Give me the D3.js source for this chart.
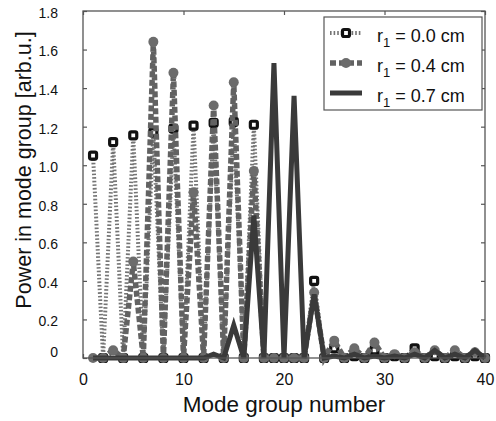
<!DOCTYPE html>
<html>
<head>
<meta charset="utf-8">
<script src="https://cdn.jsdelivr.net/npm/d3@7"></script>
<style>
  body { margin: 0; background: #fff; overflow: hidden; }
  svg { display: block; }
  text { font-family: "Liberation Sans", Arial, sans-serif; fill: #111; }
</style>
</head>
<body>
<div id="chart-wrapper"></div>
<script>
// mode group numbers on the x axis
const modeGroups = [1, 2, 3, 4, 5, 6, 7, 8, 9, 10, 11, 12, 13, 14, 15, 16, 17, 18, 19, 20,
  21, 22, 23, 24, 25, 26, 27, 28, 29, 30, 31, 32, 33, 34, 35, 36, 37, 38, 39, 40];

// power per mode group, one list per launch offset
const powerR00 = [1.05, 0, 1.12, 0, 1.155, 0, 1.17, 0, 1.19, 0, 1.205, 0, 1.22, 0, 1.225, 0, 1.21, 0, 0, 0,
  0, 0, 0.40, 0, 0.05, 0, 0.01, 0, 0.04, 0, 0.01, 0, 0.05, 0, 0.01, 0, 0.01, 0, 0.01, 0];
const powerR04 = [0, 0, 0.04, 0, 0.50, 0, 1.64, 0, 1.48, 0, 0.86, 0, 1.31, 0, 1.43, 0, 0.97, 0, 0, 0,
  0, 0, 0.34, 0, 0.09, 0, 0.05, 0, 0.08, 0, 0.02, 0, 0.03, 0, 0.04, 0, 0.04, 0, 0.03, 0];
const powerR07 = [0, 0, 0, 0, 0, 0, 0, 0, 0, 0, 0, 0, 0.02, 0, 0.17, 0, 0.74, 0, 1.53, 0,
  1.36, 0, 0.33, 0, 0.01, 0, 0.02, 0, 0.01, 0, 0.01, 0, 0.02, 0, 0.04, 0, 0.02, 0, 0.04, 0];

const seriesNames = ["0.0", "0.4", "0.7"];
const xTicks = [0, 10, 20, 30, 40];
const yTicks = [0, 0.2, 0.4, 0.6, 0.8, 1.0, 1.2, 1.4, 1.6, 1.8];

const dimensions = {
  width: 496,
  height: 421,
  margin: { top: 11, right: 11, bottom: 63, left: 83 },
};
const innerWidth = dimensions.width - dimensions.margin.left - dimensions.margin.right;
const innerHeight = dimensions.height - dimensions.margin.top - dimensions.margin.bottom;

const styles = [
  { color: "#747474", width: 4, dash: "1.6,2", marker: "square" },
  { color: "#626262", width: 5.5, dash: "6,2.5", marker: "circle" },
  { color: "#3a3a3a", width: 5, dash: null, marker: null },
];

const series = [powerR00, powerR04, powerR07].map((values, i) => ({
  name: seriesNames[i],
  style: styles[i],
  points: modeGroups.map((g, j) => ({ x: g, y: values[j] })),
}));

const xScale = d3.scaleLinear().domain([0, 40]).range([0, innerWidth]);
const yScale = d3.scaleLinear().domain([0, 1.8]).range([innerHeight, 0]);

const svg = d3.select("#chart-wrapper")
  .append("svg")
  .attr("width", dimensions.width)
  .attr("height", dimensions.height);

const bounds = svg.append("g")
  .attr("transform", `translate(${dimensions.margin.left},${dimensions.margin.top})`);

// axes (ticks point inward)
const xAxis = bounds.append("g")
  .attr("transform", `translate(0,${innerHeight})`)
  .attr("font-size", 16)
  .attr("font-family", null)
  .call(d3.axisBottom(xScale).tickValues(xTicks).tickSizeInner(-4).tickSizeOuter(0).tickPadding(15.5));
xAxis.attr("font-size", 16).attr("font-family", null);

const yAxis = bounds.append("g")
  .call(d3.axisLeft(yScale).tickValues(yTicks).tickSizeInner(-4).tickSizeOuter(0).tickPadding(25)
    .tickFormat(d => d === 0 ? "0" : d3.format(".1f")(d)));
yAxis.attr("font-size", 14).attr("font-family", null);
yAxis.selectAll("text")
  .attr("dy", d => d === 0 ? -1.4 : 6.4);

// mirrored ticks on top and right, no labels
bounds.append("g")
  .call(d3.axisTop(xScale).tickValues(xTicks).tickSizeInner(-4).tickSizeOuter(0).tickFormat(""))
  .selectAll("text").remove();
bounds.append("g")
  .attr("transform", `translate(${innerWidth},0)`)
  .call(d3.axisRight(yScale).tickValues(yTicks).tickSizeInner(-4).tickSizeOuter(0).tickFormat(""))
  .selectAll("text").remove();

bounds.selectAll(".domain").remove();
bounds.selectAll(".tick line").attr("stroke", "#555").attr("stroke-width", 1.2);

// data
const lineGen = d3.line().x(d => xScale(d.x)).y(d => yScale(d.y));
const dataWrapper = bounds.append("g").classed("series", true);

series.forEach(s => {
  dataWrapper.append("path")
    .datum(s.points)
    .attr("d", lineGen)
    .attr("fill", "none")
    .attr("stroke", s.style.color)
    .attr("stroke-width", s.style.width)
    .attr("stroke-dasharray", s.style.dash);

  if (s.style.marker === "square") {
    dataWrapper.append("g")
      .selectAll("rect")
      .data(s.points)
      .join("rect")
      .attr("x", d => xScale(d.x) - 3.5)
      .attr("y", d => yScale(d.y) - 3.5)
      .attr("width", 7)
      .attr("height", 7)
      .attr("rx", 1.5)
      .attr("fill", "#fff")
      .attr("stroke", "#111")
      .attr("stroke-width", 3.2);
  } else if (s.style.marker === "circle") {
    dataWrapper.append("g")
      .selectAll("circle")
      .data(s.points)
      .join("circle")
      .attr("cx", d => xScale(d.x))
      .attr("cy", d => yScale(d.y))
      .attr("r", 5)
      .attr("fill", "#6c6c6c");
  }
});

// frame
bounds.append("rect")
  .attr("width", innerWidth)
  .attr("height", innerHeight)
  .attr("fill", "none")
  .attr("stroke", "#555")
  .attr("stroke-width", 1.3);

// axis titles
svg.append("text")
  .attr("x", dimensions.margin.left + innerWidth / 2)
  .attr("y", 412)
  .attr("text-anchor", "middle")
  .attr("font-size", 22.5)
  .text("Mode group number");

svg.append("text")
  .attr("transform", "translate(31,170) rotate(-90)")
  .attr("text-anchor", "middle")
  .attr("font-size", 21.5)
  .text("Power in mode group [arb.u.]");

// legend
const legend = svg.append("g").attr("transform", "translate(324,17)");
legend.append("rect")
  .attr("width", 158)
  .attr("height", 93)
  .attr("fill", "#fff")
  .attr("stroke", "#555")
  .attr("stroke-width", 1.2);

const rows = legend.selectAll("g.row")
  .data(series)
  .join("g")
  .classed("row", true)
  .attr("transform", (d, i) => `translate(0,${16 + i * 30})`);

rows.append("line")
  .attr("x1", 6)
  .attr("x2", 38)
  .attr("stroke", d => d.style.color)
  .attr("stroke-width", d => d.style.width)
  .attr("stroke-dasharray", d => d.style.dash ? (d.style.marker === "square" ? "1.6,2" : "6,3") : null);

rows.filter(d => d.style.marker === "square")
  .append("rect")
  .attr("x", 22 - 3.5)
  .attr("y", -3.5)
  .attr("width", 7)
  .attr("height", 7)
  .attr("rx", 1.5)
  .attr("fill", "#fff")
  .attr("stroke", "#111")
  .attr("stroke-width", 3.2);

rows.filter(d => d.style.marker === "circle")
  .append("circle")
  .attr("cx", 22)
  .attr("r", 5)
  .attr("fill", "#6c6c6c");

const label = rows.append("text")
  .attr("x", 53)
  .attr("y", 8.5)
  .attr("font-size", 18);
label.append("tspan").text("r");
label.append("tspan").attr("dy", 5).attr("font-size", 13).text("1");
label.append("tspan").attr("dy", -5).text(d => ` = ${d.name} cm`);
</script>
</body>
</html>
